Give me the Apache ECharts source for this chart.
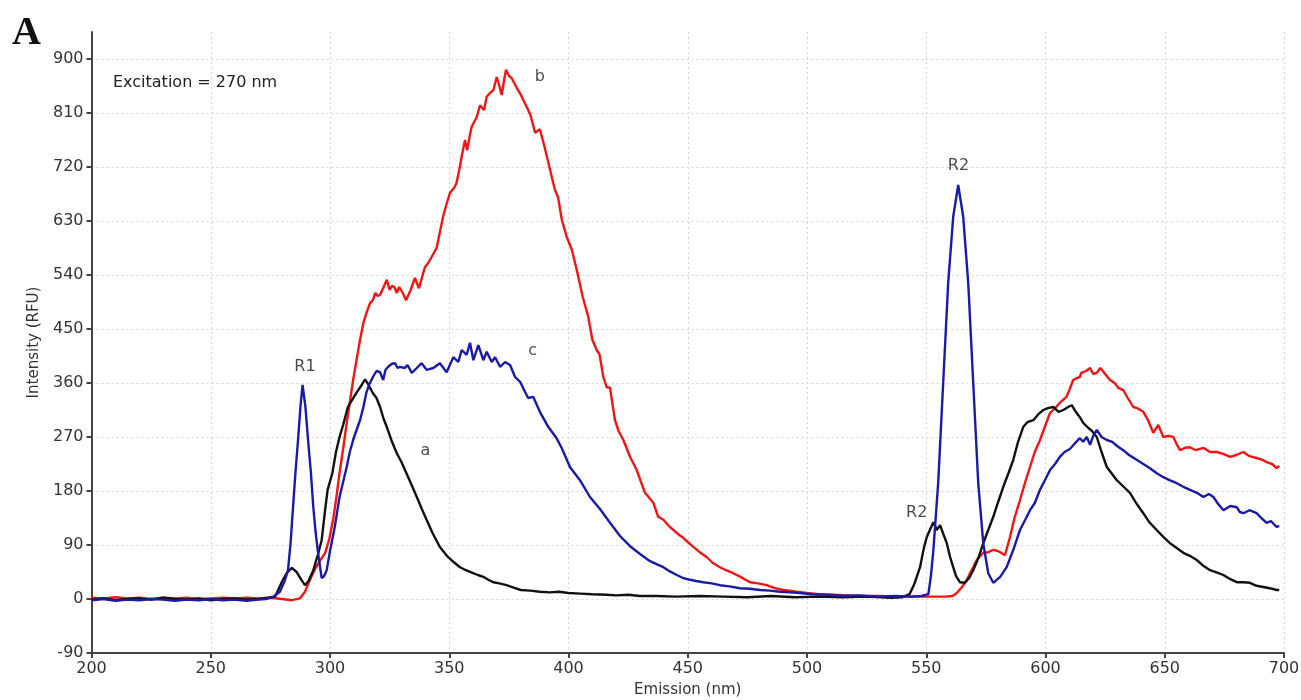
<!DOCTYPE html>
<html>
<head>
<meta charset="utf-8">
<script src="https://cdn.jsdelivr.net/npm/echarts@6/dist/echarts.min.js"></script>
<style>
html,body{margin:0;padding:0;background:#fff;}
#chart{width:1301px;height:700px;}
</style>
</head>
<body>
<div id="chart"></div>
<script>
// ---- data (wavelength nm, intensity RFU) ----
const xTicks = [200, 250, 300, 350, 400, 450, 500, 550, 600, 650, 700];
const yTicks = [-90, 0, 90, 180, 270, 360, 450, 540, 630, 720, 810, 900];

const curveA = [
[200,-1],[205,1],[210,-2],[215,0],[220,1],[225,-1],[230,2],[235,0],[240,-1],[245,1],[250,-2],[255,0],[260,1],[265,-1],[270,0],[274,2],[277,4],
[280,30],[282,44],[284,52],[286,45],[288,32],[289.5,23],[291,30],[293,48],[295,75],[296.5,98],[298,150],[299,182],[301,210],[302.5,245],[304,270],
[305.5,290],[307.5,320],[309,330],[311,343],[313,355],[314.7,366],[316,358],[318,343],[319.5,335],[321,320],[322.5,300],[323.8,287],[326,262],
[328,243],[330,228],[332,210],[334,192],[336.4,170],[338.5,150],[340.5,132],[343,110],[346,87],[349,72],[351.7,62],[354.5,53],[357,48],[360,43],
[362,40],[364.3,37],[366,33],[368.5,28],[371,26],[374,23],[377,19],[380,15],[384,14],[388,12],[392,11],[396,12],[400,10],[405,9],[410,8],[416,7],
[420,6],[425,7],[430,5],[437,5],[445,4],[455,5],[465,4],[475,3],[485,5],[495,3],[505,4],[515,3],[525,4],[535,2],[540,3],[543,8],[545,25],
[547.4,53],[549,85],[550.2,103],[551.5,115],[553,128],[554.4,115],[555.8,123],[557,110],[558.6,93],[560,70],[561.3,53],[562.5,38],[564.1,28],
[566.2,27],[568,35],[569.7,48],[572,70],[573.9,93],[576,115],[578.1,137],[580,160],[582.3,187],[584.5,210],[586.5,232],[588.5,262],[590.7,287],
[592.5,295],[594.9,298],[597,308],[599.1,315],[601,318],[603.3,320],[605.5,312],[607.5,315],[609.5,320],[611,323],[612.7,312],[614.4,303],
[615.9,293],[618,285],[619.5,280],[621.5,270],[623.5,245],[625.7,220],[628,208],[629.9,198],[632,190],[635.4,177],[638,160],[641,143],[643.5,128],
[646.6,115],[649.5,103],[652.2,93],[655,85],[657.8,77],[660.5,72],[663.4,65],[666,56],[669,48],[672,44],[674.6,40],[677.5,33],[680.2,28],[683,28],
[685.7,27],[688.5,22],[691.3,20],[694,18],[696.9,15],[698,15]
];

const curveB = [
[200,2],[205,1],[210,3],[215,1],[220,2],[225,0],[230,2],[235,1],[240,2],[245,0],[250,1],[255,2],[260,1],[265,2],[270,1],[275,2],[280,0],[284,-2],
[287.4,1],[289.5,12],[291.6,32],[294,52],[296,65],[298,77],[299.7,100],[301.3,132],[302.7,170],[304,210],[305.5,250],[307,293],[308.4,330],
[309.7,365],[311.2,400],[312.6,432],[314,460],[315.4,478],[316.8,493],[318,498],[319,510],[320,505],[321,507],[322.5,520],[323.8,532],[325,515],
[326,522],[327,520],[328,510],[329,520],[330.5,510],[331.9,498],[333.8,515],[335.6,535],[337.3,518],[339.8,553],[341.2,560],[342.6,570],[344.7,585],
[346,610],[347.4,637],[349,660],[350.3,677],[352,685],[353,693],[354.2,715],[355.2,737],[356.6,765],[357.5,748],[358.5,770],[359.4,787],[361.5,803],
[362.9,823],[364.6,815],[365.7,837],[367,843],[368.5,848],[369.9,870],[371,855],[372,840],[373,865],[373.8,882],[375,872],[376.2,868],[378.3,852],
[379.8,842],[381,832],[382.5,820],[384,807],[386,777],[388,783],[390,753],[392,720],[393.2,700],[394.3,682],[395.6,670],[397.2,632],[399.3,603],
[401.4,582],[403.5,548],[406,503],[408.3,470],[410,432],[411.8,415],[413,408],[414.6,370],[416,353],[417.4,352],[419.5,298],[421,280],[423,265],
[425.8,237],[428.6,215],[430.4,195],[432.1,177],[434,168],[435.6,160],[437.6,137],[439.8,132],[442,122],[444,115],[446,108],[448.1,102],[450,95],
[452.3,87],[455,78],[457.9,70],[460.5,60],[463.5,53],[466,48],[469.1,43],[472.5,36],[476.1,28],[479.5,26],[483.1,23],[486.5,18],[490.1,15],
[495.7,12],[500,10],[505,8],[511,7],[517,6],[523,5],[530,5],[537,4],[545,4],[552,4],[558,4],[561,5],[562.8,10],[565,20],[567,32],[569,48],
[571.2,65],[573.9,77],[576,78],[578.1,82],[580,80],[581,78],[583,73],[585.1,103],[587,135],[589.3,165],[591.5,195],[593.5,220],[595.5,245],
[597.7,265],[600,290],[601.9,310],[604.5,320],[606,327],[608.8,337],[610.2,350],[611.6,365],[613,368],[614.4,370],[615,377],[617,380],[618.7,385],
[620,375],[621.5,377],[623,385],[625,375],[627,365],[629,360],[630.5,352],[632.6,348],[634.5,335],[636.8,320],[638.5,318],[641,312],[643,298],
[645.2,277],[647.3,290],[649.4,270],[651.5,272],[653.6,270],[655,258],[656.4,248],[658.5,252],[660.6,253],[663,248],[666.2,252],[669,245],
[671.8,245],[674.5,242],[677.4,237],[680,240],[683,245],[685.5,238],[688.5,235],[691,232],[692.7,228],[695,225],[696.9,218],[698,222]
];

const curveC = [
[200,-2],[205,0],[210,-3],[215,-1],[220,-2],[225,0],[230,-1],[235,-3],[240,-1],[245,-2],[250,0],[255,-2],[260,-1],[265,-3],[270,-1],[273,0],
[276,3],[279,12],[281,30],[282.4,48],[283.5,95],[284.5,153],[285.5,210],[286.6,265],[287.6,320],[288.5,357],[289.7,320],[290.8,265],[292,210],
[293,153],[294,110],[295,77],[296.5,35],[297.5,38],[298.6,48],[300,80],[302,120],[304,170],[305.5,195],[307,220],[308.3,245],[309.7,265],[311,280],
[312.6,298],[314,320],[315.2,343],[316.5,358],[318,370],[319.5,380],[321,378],[322.3,365],[323.3,382],[324.4,387],[326,392],[327.3,393],[328.3,385],
[329.3,387],[331.4,385],[332.5,390],[334.3,377],[336.4,385],[338.4,393],[340.5,382],[343.3,385],[346.1,393],[348.9,378],[351.7,403],[353.8,395],
[355.2,415],[357.3,407],[358.7,427],[360.1,398],[362.2,423],[364.3,398],[365.7,412],[367.8,395],[369.2,403],[371.3,387],[373.4,395],[375.5,390],
[377.6,370],[379.7,362],[381.8,345],[383.1,335],[385.2,337],[388,312],[391.5,287],[395,268],[397.1,252],[400.6,220],[404.8,198],[409,170],
[413.2,150],[417.4,127],[421.6,105],[425.8,88],[430,75],[434.2,63],[437.6,57],[439.8,53],[442.5,46],[445.4,40],[448,35],[451,32],[453.5,30],
[456.5,28],[460,26],[463.5,23],[467.5,21],[471.9,18],[476,17],[480.3,15],[484.5,14],[488.7,12],[493,11],[497,10],[502,8],[508,7],[515,5],[522,6],
[530,4],[537,5],[544,4],[548,5],[550.9,8],[552,40],[553,82],[555,193],[557.1,360],[559.2,527],[561.3,637],[563.4,690],[565.5,637],[567.6,527],
[569.7,360],[571.8,193],[573.9,93],[576,43],[578.1,27],[581,37],[583.7,53],[586.5,82],[589.3,115],[591.5,132],[593.5,148],[595.5,160],[597.7,182],
[600,200],[601.9,215],[604,225],[606,237],[608,245],[610.2,250],[612,258],[614.4,268],[615.8,262],[617.3,270],[618.7,257],[620,272],[621.5,282],
[623.5,270],[625.7,265],[628,262],[630,255],[632.6,248],[635,240],[638.2,232],[641,225],[643.8,218],[646.5,210],[649.4,203],[652,198],[655,193],
[657.8,187],[660.6,182],[663.5,177],[666.2,170],[668.5,175],[670.4,170],[672.5,158],[674.6,148],[677.5,155],[680.2,153],[681.5,145],[683,143],
[685.5,148],[688.5,143],[690.5,135],[692.7,127],[694.5,130],[696.9,120],[698,122]
];

// annotation texts with their data positions
const notes = [
  {text: 'a', x: 340, y: 247},
  {text: 'b', x: 388, y: 870},
  {text: 'c', x: 385, y: 413},
  {text: 'R1', x: 289.5, y: 387},
  {text: 'R2', x: 563.5, y: 722},
  {text: 'R2', x: 546, y: 143}
];

const FONT = 'DejaVu Sans';
const chart = echarts.init(document.getElementById('chart'), null, {renderer: 'canvas'});

function lineSeries(name, data, color, extra) {
  return Object.assign({
    name: name, type: 'line', data: data, showSymbol: false, symbol: 'none',
    lineStyle: {color: color, width: 2.4}, itemStyle: {color: color},
    animation: false, z: 2
  }, extra || {});
}

const option = {
  backgroundColor: '#fff',
  animation: false,
  grid: {left: 91.5, right: 17, top: 32, bottom: 47, containLabel: false, outerBoundsMode: 'none'},
  xAxis: {
    type: 'value', min: 200, max: 700, interval: 50,
    name: 'Emission (nm)', nameLocation: 'middle', nameGap: 30,
    nameTextStyle: {fontFamily: FONT, fontSize: 15, color: '#333'},
    axisLine: {show: true, onZero: false, lineStyle: {color: '#444', width: 2}},
    axisTick: {show: true, length: 5, lineStyle: {color: '#444', width: 2}},
    axisLabel: {fontFamily: FONT, fontSize: 16, color: '#333', margin: 8},
    splitLine: {show: true, lineStyle: {color: '#d4d4d4', type: [2, 3], width: 1}}
  },
  yAxis: {
    type: 'value', min: -90, max: 945,
    name: 'Intensity (RFU)', nameLocation: 'middle', nameGap: 50, nameRotate: 90,
    nameTextStyle: {fontFamily: FONT, fontSize: 15, color: '#333'},
    axisLine: {show: true, onZero: false, lineStyle: {color: '#444', width: 2}},
    axisTick: {show: true, length: 5, customValues: yTicks, lineStyle: {color: '#444', width: 2}},
    axisLabel: {fontFamily: FONT, fontSize: 16, color: '#333', margin: 8, customValues: yTicks},
    splitLine: {show: true, lineStyle: {color: '#d4d4d4', type: [2, 3], width: 1}}
  },
  series: [
    lineSeries('b', curveB, '#f01616'),
    lineSeries('a', curveA, '#111111'),
    lineSeries('c', curveC, '#1a1aa6'),
    {
      type: 'scatter', data: notes.map(n => ({value: [n.x, n.y], name: n.text})),
      symbolSize: 0, silent: true, z: 5,
      label: {show: true, position: 'inside', formatter: p => p.name,
        fontFamily: FONT, fontSize: 16, color: '#1a1a1a'}
    }
  ],
  graphic: [
    {type: 'text', left: 12, top: 14, style: {text: 'A', font: 'bold 40px "Liberation Serif"', fill: '#111'}},
    {type: 'text', x: 113, y: 83, style: {text: 'Excitation = 270 nm', font: '16px "DejaVu Sans"', fill: '#222', verticalAlign: 'middle'}}
  ]
};
chart.setOption(option);
</script>
</body>
</html>
